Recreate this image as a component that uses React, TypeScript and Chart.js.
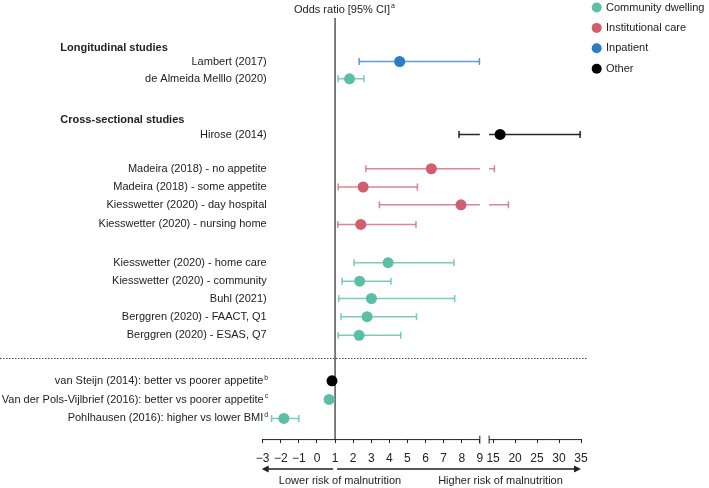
import React, { useEffect, useRef } from 'react';
import { Chart, LinearScale, registerables } from 'chart.js';

Chart.register(...registerables);

// ---------- data ----------
const LABELS = [
  'Lambert (2017)',
  'de Almeida Melllo (2020)',
  'Hirose (2014)',
  'Madeira (2018) - no appetite',
  'Madeira (2018) - some appetite',
  'Kiesswetter (2020) - day hospital',
  'Kiesswetter (2020) - nursing home',
  'Kiesswetter (2020) - home care',
  'Kiesswetter (2020) - community',
  'Buhl (2021)',
  'Berggren (2020) - FAACT, Q1',
  'Berggren (2020) - ESAS, Q7',
  'van Steijn (2014): better vs poorer appetite',
  'Van der Pols-Vijlbrief (2016): better vs poorer appetite',
  'Pohlhausen (2016): higher vs lower BMI',
];
const FOOTNOTES = ['', '', '', '', '', '', '', '', '', '', '', '', 'b', 'c', 'd'];
const GROUP = [
  'Inpatient',
  'Community dwelling',
  'Other',
  'Institutional care',
  'Institutional care',
  'Institutional care',
  'Institutional care',
  'Community dwelling',
  'Community dwelling',
  'Community dwelling',
  'Community dwelling',
  'Community dwelling',
  'Other',
  'Community dwelling',
  'Community dwelling',
];
const ODDS = [4.57, 1.8, 16.6, 6.32, 2.55, 7.96, 2.42, 3.93, 2.36, 3.01, 2.77, 2.33, 0.83, 0.67, -1.83];
const CI_LOW = [2.33, 1.17, 7.85, 2.7, 1.17, 3.45, 1.15, 2.05, 1.39, 1.2, 1.33, 1.17, null, null, -2.51];
const CI_HIGH = [8.98, 2.6, 34.8, 15.3, 5.55, 18.5, 5.47, 7.57, 4.09, 7.61, 5.5, 4.63, null, null, -1.0];
const SERIES = ['Community dwelling', 'Institutional care', 'Inpatient', 'Other'];
const TICKS = [-3, -2, -1, 0, 1, 2, 3, 4, 5, 6, 7, 8, 9, 15, 20, 25, 30, 35];
const HEADERS = ['Longitudinal studies', 'Cross-sectional studies'];
const TITLE = 'Odds ratio [95% CI]';
const TITLE_NOTE = 'a';
const ARROW_LEFT = 'Lower risk of malnutrition';
const ARROW_RIGHT = 'Higher risk of malnutrition';

// ---------- layout (row slots on the vertical scale) ----------
const ROW_SLOT = [0, 0.94, 3.96, 5.82, 6.81, 7.78, 8.84, 10.92, 11.92, 12.86, 13.85, 14.86, 17.33, 18.34, 19.37];
const HEADER_SLOT = [-0.74, 3.15];
const SEPARATOR_SLOT = 16.09;

// ---------- styles ----------
const COLORS = {
  'Community dwelling': '#5bbfa8',
  'Institutional care': '#d25d6d',
  Inpatient: '#2c7bc7',
  Other: '#000000',
};
const LINE_COLORS = {
  'Community dwelling': 'rgba(91,191,168,0.8)',
  'Institutional care': 'rgba(210,93,109,0.75)',
  Inpatient: 'rgba(44,123,199,0.75)',
  Other: 'rgba(0,0,0,0.85)',
};
const FONT = "'Liberation Sans', Arial, Helvetica, sans-serif";
const TEXT = '#222';

// ---------- broken axis ----------
const BREAK_LO = 9;
const BREAK_HI = 14.1;
const GAP = 0.514;
const K = 0.243;

function toDisplay(v: any): number {
  if (v === null || v === undefined || isNaN(v)) return NaN;
  if (v <= BREAK_LO) return v;
  if (v >= BREAK_HI) return BREAK_LO + GAP + (v - BREAK_HI) * K;
  return BREAK_LO + ((v - BREAK_LO) / (BREAK_HI - BREAK_LO)) * GAP;
}
function fromDisplay(d: number): number {
  if (d <= BREAK_LO) return d;
  if (d >= BREAK_LO + GAP) return BREAK_HI + (d - BREAK_LO - GAP) / K;
  return BREAK_LO + ((d - BREAK_LO) / GAP) * (BREAK_HI - BREAK_LO);
}

class BrokenScale extends (LinearScale as any) {
  static id = 'broken';
  static defaults = (LinearScale as any).defaults;
  buildTicks() {
    this.start = this.min;
    this.end = this.max;
    return TICKS.map((v) => ({ value: v }));
  }
  configure() {
    super.configure();
    this._startValue = toDisplay(this.min);
    this._endValue = toDisplay(this.max);
    this._valueRange = this._endValue - this._startValue;
  }
  getPixelForValue(value: any) {
    const d = toDisplay(value);
    if (isNaN(d)) return NaN;
    return this.getPixelForDecimal((d - this._startValue) / this._valueRange);
  }
  getValueForPixel(pixel: number) {
    return fromDisplay(this._startValue + this.getDecimalForPixel(pixel) * this._valueRange);
  }
}
Chart.register(BrokenScale as any);

function fmt(v: number) {
  return v < 0 ? '\u2212' + Math.abs(v) : String(v);
}

function buildDatasets() {
  const ds: any[] = [];
  SERIES.forEach((s) => {
    const pts: any[] = [];
    ODDS.forEach((o, i) => {
      if (GROUP[i] === s) pts.push({ x: o, y: ROW_SLOT[i] });
    });
    ds.push({
      type: 'scatter',
      label: s,
      data: pts,
      pointRadius: 5.5,
      pointHoverRadius: 5.5,
      pointBackgroundColor: COLORS[s],
      pointBorderWidth: 0,
      pointBorderColor: COLORS[s],
      order: 0,
    });
  });
  CI_LOW.forEach((lo, i) => {
    const hi = CI_HIGH[i];
    if (lo === null || hi === null) return;
    const segs: [number, number, boolean, boolean][] = [];
    if (lo < BREAK_LO && hi > BREAK_HI) {
      segs.push([lo, BREAK_LO, true, false]);
      segs.push([BREAK_HI, hi, false, true]);
    } else {
      segs.push([lo, hi, true, true]);
    }
    const c = LINE_COLORS[GROUP[i]];
    segs.forEach(([a, b, ca, cb]) => {
      ds.push({
        type: 'scatter',
        label: '_ci',
        showLine: true,
        data: [
          { x: a, y: ROW_SLOT[i] },
          { x: b, y: ROW_SLOT[i] },
        ],
        borderColor: c,
        borderWidth: 1.5,
        pointStyle: 'line',
        pointRotation: 90,
        pointRadius: [ca ? 3.5 : 0, cb ? 3.5 : 0],
        pointHoverRadius: 0,
        pointBorderColor: c,
        pointBorderWidth: 1.5,
        order: 1,
      });
    });
  });
  return ds;
}

const decorPlugin = {
  id: 'decor',
  beforeDatasetsDraw(chart: any) {
    const { ctx, chartArea, scales } = chart;
    const x = scales.x;
    const y = scales.y;
    ctx.save();
    // reference line at OR = 1
    const x1 = x.getPixelForValue(1);
    ctx.strokeStyle = '#555';
    ctx.lineWidth = 1.5;
    ctx.beginPath();
    ctx.moveTo(x1, chartArea.top);
    ctx.lineTo(x1, chartArea.bottom);
    ctx.stroke();
    // dotted separator
    const ys = Math.round(y.getPixelForValue(SEPARATOR_SLOT)) + 0.5;
    ctx.strokeStyle = '#444';
    ctx.lineWidth = 1;
    ctx.setLineDash([1.5, 1.5]);
    ctx.beginPath();
    ctx.moveTo(0, ys);
    ctx.lineTo(x.right + 6, ys);
    ctx.stroke();
    ctx.restore();
  },
  afterDraw(chart: any) {
    const { ctx, chartArea, scales } = chart;
    const x = scales.x;
    const y = scales.y;
    ctx.save();
    // broken baseline
    const by = chartArea.bottom + 0.5;
    ctx.strokeStyle = '#222';
    ctx.lineWidth = 1;
    const p9 = x.getPixelForValue(BREAK_LO);
    const p14 = x.getPixelForValue(BREAK_HI);
    ctx.beginPath();
    ctx.moveTo(x.getPixelForValue(-3), by);
    ctx.lineTo(p9, by);
    ctx.moveTo(p14, by);
    ctx.lineTo(x.getPixelForValue(35), by);
    ctx.moveTo(p9, by - 4);
    ctx.lineTo(p9, by + 4);
    ctx.moveTo(p14, by - 4);
    ctx.lineTo(p14, by + 4);
    ctx.stroke();

    // arrows
    const ay = 469;
    const x1 = x.getPixelForValue(1);
    const xl = x.getPixelForValue(-3) - 1;
    const xr = x.getPixelForValue(35);
    ctx.fillStyle = '#222';
    ctx.lineWidth = 1.3;
    ctx.beginPath();
    ctx.moveTo(x1 - 2, ay);
    ctx.lineTo(xl + 5, ay);
    ctx.moveTo(x1 + 2, ay);
    ctx.lineTo(xr - 5, ay);
    ctx.stroke();
    ctx.beginPath();
    ctx.moveTo(xl, ay);
    ctx.lineTo(xl + 7, ay - 3.5);
    ctx.lineTo(xl + 7, ay + 3.5);
    ctx.closePath();
    ctx.fill();
    ctx.beginPath();
    ctx.moveTo(xr, ay);
    ctx.lineTo(xr - 7, ay - 3.5);
    ctx.lineTo(xr - 7, ay + 3.5);
    ctx.closePath();
    ctx.fill();

    ctx.fillStyle = TEXT;
    ctx.font = `11px ${FONT}`;
    ctx.textBaseline = 'middle';
    ctx.textAlign = 'center';
    ctx.fillText(ARROW_LEFT, 340, 481);
    ctx.fillText(ARROW_RIGHT, 500.5, 481);

    // title
    ctx.textAlign = 'left';
    ctx.fillText(TITLE, 294, 9.5);
    const tw = ctx.measureText(TITLE).width;
    ctx.font = `7px ${FONT}`;
    ctx.fillText(TITLE_NOTE, 294 + tw + 1, 6);

    // row labels
    const RIGHT = 266.7;
    LABELS.forEach((lab, i) => {
      const py = y.getPixelForValue(ROW_SLOT[i]);
      const note = FOOTNOTES[i];
      ctx.textAlign = 'right';
      if (note) {
        ctx.font = `7px ${FONT}`;
        const nw = ctx.measureText(note).width;
        ctx.fillText(note, RIGHT + 1.5, py - 3);
        ctx.font = `11px ${FONT}`;
        ctx.fillText(lab, RIGHT + 1.5 - nw - 1, py);
      } else {
        ctx.font = `11px ${FONT}`;
        ctx.fillText(lab, RIGHT, py);
      }
    });
    // headers
    ctx.textAlign = 'left';
    ctx.font = `bold 11px ${FONT}`;
    HEADERS.forEach((h, i) => {
      ctx.fillText(h, 60.3, y.getPixelForValue(HEADER_SLOT[i]));
    });

    // legend
    ctx.font = `11px ${FONT}`;
    SERIES.forEach((s, i) => {
      const cy = 7.5 + i * 20.4;
      ctx.fillStyle = COLORS[s];
      ctx.beginPath();
      ctx.arc(596.7, cy, 5, 0, Math.PI * 2);
      ctx.fill();
      ctx.fillStyle = TEXT;
      ctx.fillText(s, 606, cy);
    });
    ctx.restore();
  },
};

export default function App() {
  const ref = useRef<HTMLCanvasElement>(null);
  useEffect(() => {
    document.body.style.margin = '0';
    Chart.defaults.font.family = FONT;
    const chart = new Chart(ref.current as HTMLCanvasElement, {
      type: 'scatter',
      data: { datasets: buildDatasets() },
      options: {
        animation: false,
        responsive: true,
        maintainAspectRatio: false,
        events: [],
        layout: { padding: { left: 262.7, right: 128, top: 18, bottom: 13.5 } },
        plugins: { legend: { display: false }, tooltip: { enabled: false } },
        scales: {
          x: {
            type: 'broken',
            min: -3,
            max: 35,
            grid: { drawOnChartArea: false, drawTicks: true, tickLength: 4, color: '#222', lineWidth: 1 },
            border: { display: false },
            ticks: {
              autoSkip: false,
              maxRotation: 0,
              minRotation: 0,
              padding: 8.5,
              color: TEXT,
              font: { family: FONT, size: 12 },
              callback: (v: any) => fmt(Number(v)),
            },
          },
          y: { type: 'linear', display: false, reverse: true, min: -2.36, max: 20.49 },
        },
      } as any,
      plugins: [decorPlugin],
    });
    return () => chart.destroy();
  }, []);
  return (
    <div style={{ width: 709, height: 488, position: 'relative' }}>
      <canvas ref={ref} />
    </div>
  );
}
